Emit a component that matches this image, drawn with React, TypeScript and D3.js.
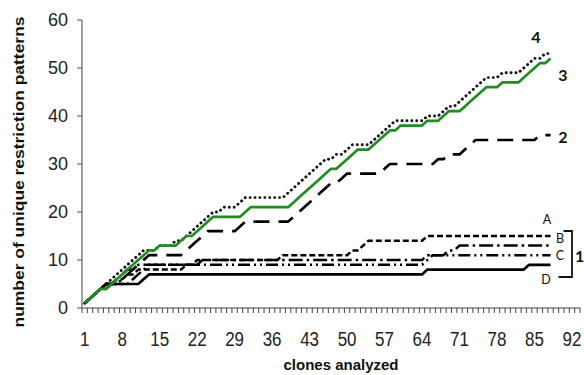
import React from "react";
import * as d3 from "d3";

const clones: number[] = Array.from({ length: 88 }, (_, i) => i + 1);
const xTickLabels: number[] = [1, 8, 15, 22, 29, 36, 43, 50, 57, 64, 71, 78, 85, 92];
const yTickLabels: number[] = [0, 10, 20, 30, 40, 50, 60];

const series4: number[] = [
  1, 2, 3, 4, 5, 6, 7, 8, 9, 10,
  11, 12, 12, 12, 13, 13, 13, 14, 14, 15,
  16, 17, 18, 19, 20, 20, 21, 21, 21, 22,
  23, 23, 23, 23, 23, 23, 23, 23, 24, 25,
  26, 27, 28, 29, 30, 31, 31, 32, 32, 33,
  34, 34, 34, 34, 35, 36, 37, 38, 39, 39,
  39, 39, 39, 39, 40, 40, 40, 41, 42, 42,
  43, 44, 45, 46, 47, 48, 48, 48, 49, 49,
  49, 49, 50, 51, 52, 52, 53, 53,
];
const series3: number[] = [
  1, 2, 3, 4, 4, 5, 6, 7, 8, 9,
  10, 11, 12, 12, 13, 13, 13, 13, 14, 15,
  15, 16, 17, 18, 19, 19, 19, 19, 19, 19,
  20, 21, 21, 21, 21, 21, 21, 21, 21, 22,
  23, 24, 25, 26, 27, 28, 29, 29, 30, 31,
  32, 33, 33, 33, 34, 35, 36, 37, 37, 38,
  38, 38, 38, 38, 39, 39, 39, 40, 41, 41,
  41, 42, 43, 44, 45, 46, 46, 46, 47, 47,
  47, 47, 48, 49, 50, 51, 51, 52,
];
const series2: number[] = [
  1, 2, 3, 4, 4, 5, 6, 7, 8, 8,
  9, 10, 11, 11, 11, 11, 11, 11, 11, 12,
  13, 14, 15, 16, 16, 16, 16, 16, 16, 17,
  18, 18, 18, 18, 18, 18, 18, 18, 18, 19,
  20, 21, 22, 23, 24, 25, 26, 26, 27, 28,
  28, 28, 28, 28, 28, 28, 29, 30, 30, 30,
  30, 30, 30, 30, 30, 30, 31, 31, 32, 32,
  32, 33, 34, 35, 35, 35, 35, 35, 35, 35,
  35, 35, 35, 35, 35, 36, 36, 36,
];
const seriesA: number[] = [
  1, 2, 3, 4, 5, 5, 6, 6, 7, 7,
  8, 8, 8, 8, 8, 8, 8, 8, 8, 9,
  9, 10, 10, 10, 10, 10, 10, 10, 10, 10,
  10, 10, 10, 10, 10, 10, 10, 11, 11, 11,
  11, 11, 11, 11, 11, 11, 11, 11, 11, 11,
  12, 12, 13, 14, 14, 14, 14, 14, 14, 14,
  14, 14, 14, 14, 15, 15, 15, 15, 15, 15,
  15, 15, 15, 15, 15, 15, 15, 15, 15, 15,
  15, 15, 15, 15, 15, 15, 15, 15,
];
const seriesB: number[] = [
  1, 2, 3, 4, 5, 5, 5, 6, 7, 8,
  9, 9, 9, 9, 9, 9, 9, 9, 9, 9,
  9, 9, 10, 10, 10, 10, 10, 10, 10, 10,
  10, 10, 10, 10, 10, 10, 10, 10, 10, 10,
  10, 10, 10, 10, 10, 10, 10, 10, 10, 10,
  10, 10, 10, 10, 10, 10, 10, 10, 10, 10,
  10, 10, 10, 10, 11, 11, 11, 11, 12, 12,
  13, 13, 13, 13, 13, 13, 13, 13, 13, 13,
  13, 13, 13, 13, 13, 13, 13, 13,
];
const seriesC: number[] = [
  1, 2, 3, 4, 5, 5, 5, 5, 5, 6,
  7, 8, 9, 9, 9, 9, 9, 9, 9, 9,
  9, 9, 9, 9, 9, 9, 9, 9, 9, 9,
  9, 9, 9, 9, 9, 9, 9, 9, 9, 9,
  9, 9, 9, 9, 9, 9, 9, 9, 9, 9,
  9, 9, 9, 9, 9, 9, 9, 9, 9, 9,
  9, 9, 9, 9, 10, 11, 11, 11, 11, 11,
  11, 11, 11, 11, 11, 11, 11, 11, 11, 11,
  11, 11, 11, 11, 11, 11, 11, 11,
];
const seriesD: number[] = [
  1, 2, 3, 4, 5, 5, 5, 5, 5, 5,
  5, 6, 7, 7, 7, 7, 7, 7, 7, 7,
  7, 7, 7, 7, 7, 7, 7, 7, 7, 7,
  7, 7, 7, 7, 7, 7, 7, 7, 7, 7,
  7, 7, 7, 7, 7, 7, 7, 7, 7, 7,
  7, 7, 7, 7, 7, 7, 7, 7, 7, 7,
  7, 7, 7, 7, 8, 8, 8, 8, 8, 8,
  8, 8, 8, 8, 8, 8, 8, 8, 8, 8,
  8, 8, 8, 9, 9, 9, 9, 9,
];

const W = 584;
const H = 375;
const left = 82;
const right = 580;
const top = 20;
const bottom = 308;
const nCats = 93;

const x = d3.scaleLinear().domain([0.5, nCats + 0.5]).range([left, right]);
const y = d3.scaleLinear().domain([0, 60]).range([bottom, top]);

const line = d3
  .line<number>()
  .x((_, i) => x(clones[i]))
  .y((d) => y(d));

const font = "'Liberation Sans', Arial, sans-serif";
const labelFont = "Lato, 'Open Sans', 'Liberation Sans', sans-serif";

export default function App() {
  const catTicks = d3.range(0, nCats + 1).map((k) => x(k + 0.5));
  const styles = [
    { data: seriesD, dash: "none", w: 2.7, color: "#000" },
    { data: seriesC, dash: "12,4,2,4,2,4", w: 2.5, color: "#000" },
    { data: seriesB, dash: "14,4,2.5,4", w: 2.5, color: "#000" },
    { data: seriesA, dash: "6,3", w: 2.5, color: "#000" },
    { data: series2, dash: "16,9", w: 2.7, color: "#000" },
    { data: series4, dash: "0.1,4.8", w: 2.9, color: "#111", cap: "round" },
    { data: series3, dash: "none", w: 2.7, color: "#228B22" },
  ];
  const lastX = x(88);
  return (
    <svg
      width={W}
      height={H}
      style={{ position: "absolute", left: 0, top: 0, background: "#fff" }}
    >
      <rect x={0} y={0} width={W} height={H} fill="#fff" />
      <line x1={left} x2={left} y1={top} y2={bottom} stroke="#808080" strokeWidth={1.5} />
      {yTickLabels.map((v) => (
        <g key={v}>
          <line x1={left - 5} x2={left} y1={y(v)} y2={y(v)} stroke="#555" strokeWidth={1} />
          <text
            x={68}
            y={y(v)}
            textAnchor="end"
            dominantBaseline="central"
            fontFamily={font}
            fontSize={18}
            fill="#222"
          >
            {v}
          </text>
        </g>
      ))}
      <line x1={left} x2={right} y1={bottom} y2={bottom} stroke="#808080" strokeWidth={1.5} />
      {catTicks.map((tx, i) => (
        <line key={i} x1={tx} x2={tx} y1={bottom} y2={bottom + 5} stroke="#444" strokeWidth={1} />
      ))}
      {xTickLabels.map((v) => (
        <text
          key={v}
          transform={`translate(${x(v)},346) scale(1,1.15)`}
          textAnchor="middle"
          fontFamily={font}
          fontSize={17}
          fill="#222"
        >
          {v}
        </text>
      ))}
      <text
        x={341}
        y={370}
        textAnchor="middle"
        fontFamily={font}
        fontSize={15}
        fontWeight="bold"
        fill="#111"
      >
        clones analyzed
      </text>
      <text
        transform="translate(24,172) rotate(-90)"
        textAnchor="middle"
        fontFamily={font}
        fontSize={14.5}
        fontWeight="bold"
        fill="#111"
        textLength={311}
        lengthAdjust="spacingAndGlyphs"
      >
        number of unique restriction patterns
      </text>
      {styles.map((s, i) => (
        <path
          key={i}
          d={line(s.data) || ""}
          fill="none"
          stroke={s.color}
          strokeWidth={s.w}
          strokeDasharray={s.dash}
          strokeLinecap={(s as any).cap || "butt"}
          strokeLinejoin="round"
        />
      ))}
      <text x={536} y={43} textAnchor="middle" fontFamily={labelFont} fontSize={16} fontWeight="bold" fill="#111">4</text>
      <text x={563} y={81} textAnchor="middle" fontFamily={labelFont} fontSize={16} fontWeight="bold" fill="#111">3</text>
      <text x={563} y={143} textAnchor="middle" fontFamily={labelFont} fontSize={16} fontWeight="bold" fill="#111">2</text>
      <text x={547} y={224} textAnchor="middle" fontFamily={labelFont} fontSize={12.5} fill="#111">A</text>
      <text x={560} y={243} textAnchor="middle" fontFamily={labelFont} fontSize={12.5} fill="#111">B</text>
      <text x={560} y={260} textAnchor="middle" fontFamily={labelFont} fontSize={12.5} fill="#111">C</text>
      <text x={546} y={284} textAnchor="middle" fontFamily={labelFont} fontSize={12.5} fill="#111">D</text>
      <path
        d={`M${lastX + 13},231 H572 V277 H${lastX + 8}`}
        fill="none"
        stroke="#111"
        strokeWidth={1.8}
      />
      <text x={575} y={262} fontFamily={labelFont} fontSize={16} fontWeight="bold" fill="#111">1</text>
    </svg>
  );
}
